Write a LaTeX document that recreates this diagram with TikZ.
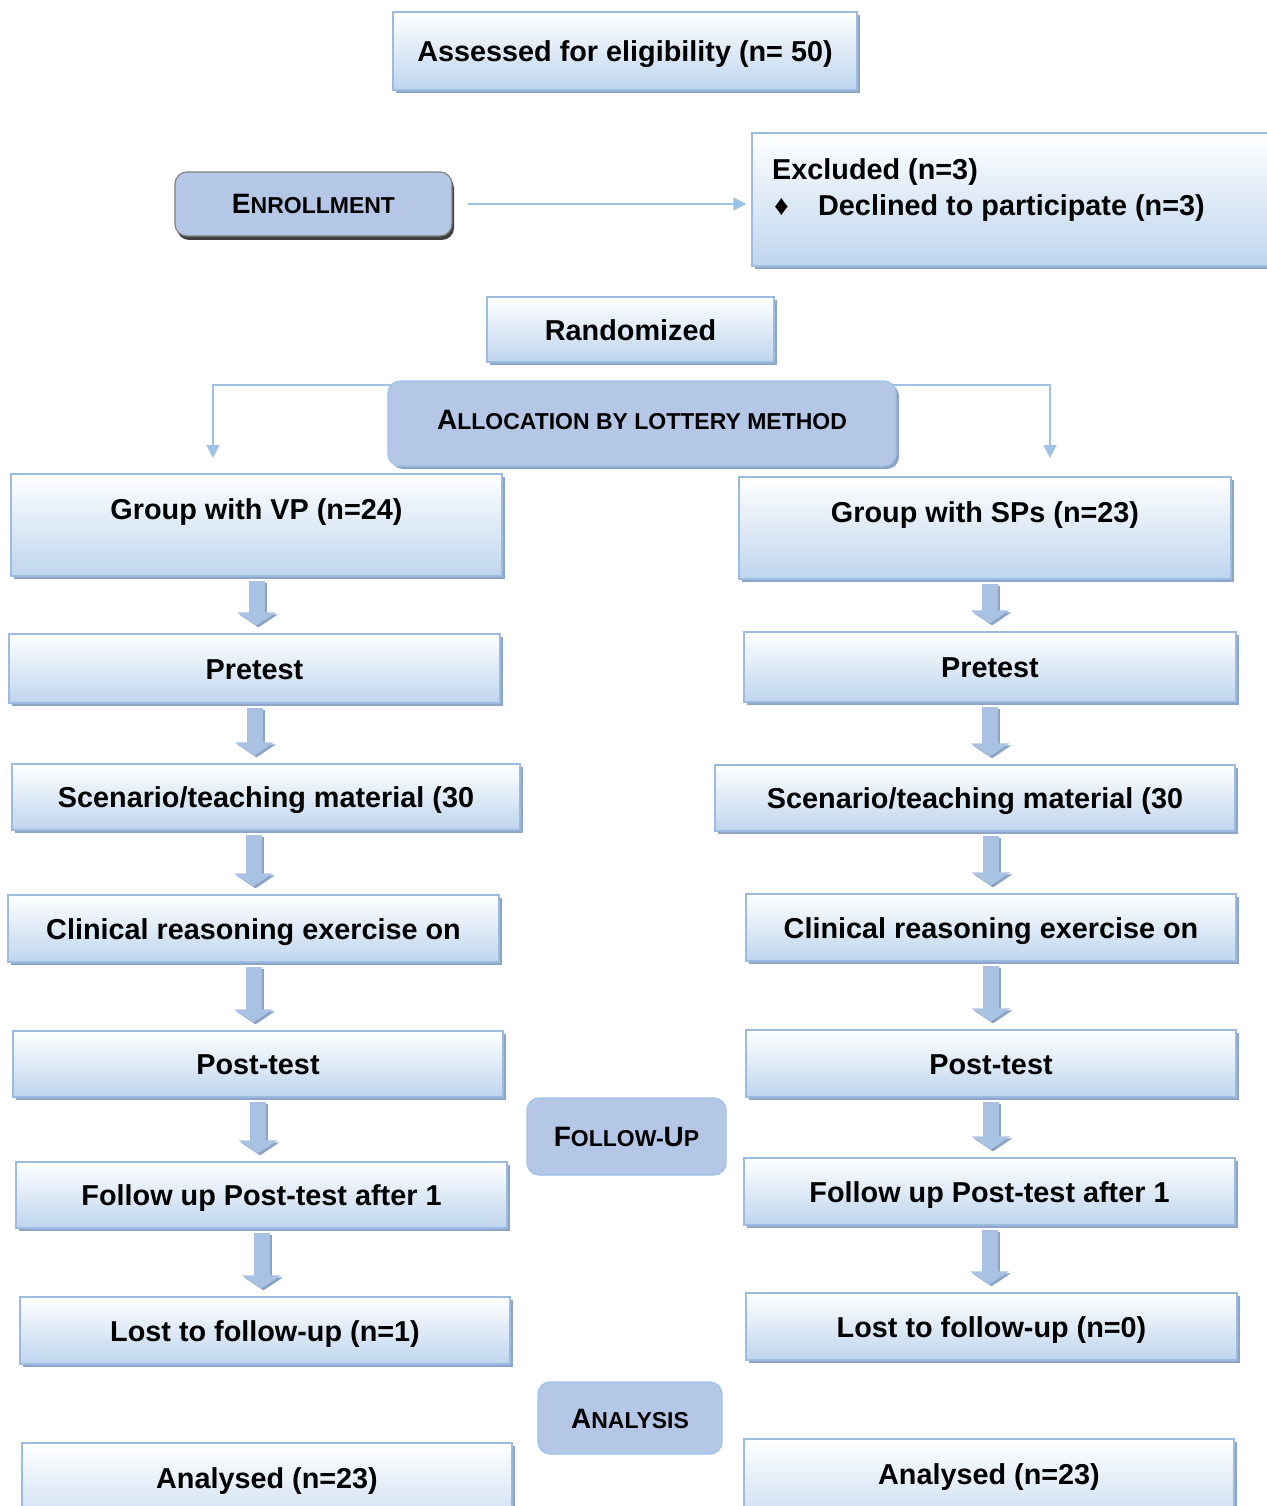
\documentclass[tikz,border=0pt]{standalone}
\usepackage{fontspec}
\setmainfont{Liberation Sans}
\usetikzlibrary{arrows.meta,shadows,backgrounds}

\definecolor{boxline}{HTML}{9BBBE0}
\definecolor{boxfoot}{HTML}{BED5EE}
\definecolor{boxshade}{HTML}{8DA5C6}
\definecolor{tagfill}{HTML}{B4C7E7}
\definecolor{fatfill}{HTML}{A9C2E4}
\definecolor{fatshade}{HTML}{8AA2C4}
\definecolor{linkcol}{HTML}{9DC3E6}

\newcommand{\capsmall}[2]{{\fontsize{28}{32}\selectfont #1}{\fontsize{23}{28}\selectfont #2}}

\begin{document}
\begin{tikzpicture}[x=1pt, y=-1pt,
    box/.style={rectangle, draw=boxline, line width=1.2pt, top color=white, bottom color=boxfoot,
        drop shadow={shadow xshift=3pt, shadow yshift=-3pt, fill=boxshade, opacity=1},
        font=\fontsize{28.8}{34}\selectfont\bfseries, text height=21pt, text depth=0pt, inner xsep=0pt},
    topbox/.style={box, text height=45pt, text depth=57pt, inner ysep=0pt},
    plain/.style={font=\fontsize{28.8}{34}\selectfont\bfseries, inner sep=0pt},
    tag/.style={rectangle, rounded corners=12pt, draw=linkcol, line width=1.2pt, fill=tagfill,
        font=\bfseries, text height=20pt, text depth=0pt},
    link/.style={draw=linkcol, line width=2pt, -{Triangle[width=13pt,length=13pt]}},
    fatbase/.style={line width=16pt, -{Triangle[width=38pt,length=13pt]}, shorten <=4pt, shorten >=8pt},
    fat/.style={fatbase, draw=fatfill,
        preaction={fatbase, draw=fatshade, transform canvas={shift={(2pt,-2pt)}}}}]
    \useasboundingbox (0,0) rectangle (1266,1506);

    % Enrollment
    \node[box, minimum width=464pt, minimum height=78pt] (assess) at (625,51) {Assessed for eligibility (n= 50)};
    \node[tag, draw=gray, drop shadow={shadow xshift=2pt, shadow yshift=-4pt, fill=black!75, opacity=1},
        minimum width=277pt, minimum height=64pt] (enroll) at (313.5,204) {\capsmall{E}{NROLLMENT}};
    \node[box, minimum width=523pt, minimum height=133pt] (excl) at (1013.5,199.5) {};
    \node[plain, anchor=base west] (exclA) at (772,179.5) {Excluded (n=3)};
    \node[plain, anchor=base west] (exclB) at (774,215.5) {\makebox[44pt][l]{♦}Declined to participate (n=3)};
    \draw[link, shorten <=15pt, shorten >=5pt] (enroll.east) -- (enroll.east -| excl.west);

    \node[box, minimum width=287pt, minimum height=65pt] (rand) at (630.5,329.5) {Randomized};

    % Allocation
    \node[tag, minimum width=508pt, minimum height=85pt, text height=48pt, text depth=37pt, inner ysep=0pt,
        drop shadow={shadow xshift=3pt, shadow yshift=-3pt, fill=boxshade, opacity=1}]
        (alloc) at (642,423.5) {\capsmall{A}{LLOCATION BY LOTTERY METHOD}};
    \coordinate (vpin) at (213,458);
    \coordinate (spin) at (1050,458);
    \begin{scope}[on background layer]
        \draw[link] ([yshift=-5pt]alloc.north) -| (vpin);
        \draw[link] ([yshift=-5pt]alloc.north) -| (spin);
    \end{scope}

    % Left arm
    \node[topbox, minimum width=491pt, minimum height=102pt] (vp) at (256.5,525) {Group with VP (n=24)};
    \node[box, minimum width=491pt, minimum height=69pt] (preL) at (254.5,668.5) {Pretest};
    \node[box, minimum width=508pt, minimum height=66pt] (scenL) at (266,797) {Scenario/teaching material (30};
    \node[box, minimum width=491pt, minimum height=67pt] (clinL) at (253.5,928.5) {Clinical reasoning exercise on};
    \node[box, minimum width=490pt, minimum height=66pt] (postL) at (258,1064) {Post-test};
    \node[box, minimum width=491pt, minimum height=66pt] (fupL) at (261.5,1195) {Follow up Post-test after 1};
    \node[box, minimum width=490pt, minimum height=67pt] (lostL) at (265,1330.5) {Lost to follow-up (n=1)};
    \node[topbox, minimum width=490pt, minimum height=102pt] (anaL) at (267,1494) {Analysed (n=23)};

    % Right arm
    \node[topbox, minimum width=492pt, minimum height=102pt] (sp) at (985,528) {Group with SPs (n=23)};
    \node[box, minimum width=492pt, minimum height=70pt] (preR) at (990,667) {Pretest};
    \node[box, minimum width=520pt, minimum height=66pt] (scenR) at (975,798) {Scenario/teaching material (30};
    \node[box, minimum width=490pt, minimum height=67pt] (clinR) at (991,927.5) {Clinical reasoning exercise on};
    \node[box, minimum width=490pt, minimum height=67pt] (postR) at (991,1063.5) {Post-test};
    \node[box, minimum width=491pt, minimum height=67pt] (fupR) at (989.5,1191.5) {Follow up Post-test after 1};
    \node[box, minimum width=491pt, minimum height=67pt] (lostR) at (991.5,1326.5) {Lost to follow-up (n=0)};
    \node[topbox, minimum width=490pt, minimum height=102pt] (anaR) at (989,1490) {Analysed (n=23)};

    % Stage labels
    \node[tag, minimum width=199pt, minimum height=77pt] (follow) at (626.5,1136.5) {\capsmall{F}{OLLOW-}\capsmall{U}{P}};
    \node[tag, minimum width=184pt, minimum height=72pt] (analysis) at (630,1418) {\capsmall{A}{NALYSIS}};

    % Block arrows
    \draw[fat] (vp.south) -- (vp.south |- preL.north);
    \draw[fat] (preL.south) -- (preL.south |- scenL.north);
    \draw[fat] (clinL.north |- scenL.south) -- (clinL.north);
    \draw[fat] (clinL.south) -- (clinL.south |- postL.north);
    \draw[fat] (postL.south) -- (postL.south |- fupL.north);
    \draw[fat] (fupL.south) -- (fupL.south |- lostL.north);
    \draw[fat] (preR.north |- sp.south) -- (preR.north);
    \draw[fat] (preR.south) -- (preR.south |- scenR.north);
    \draw[fat] (clinR.north |- scenR.south) -- (clinR.north);
    \draw[fat] (clinR.south) -- (clinR.south |- postR.north);
    \draw[fat] (postR.south) -- (postR.south |- fupR.north);
    \draw[fat] (fupR.south) -- (fupR.south |- lostR.north);
\end{tikzpicture}
\end{document}
